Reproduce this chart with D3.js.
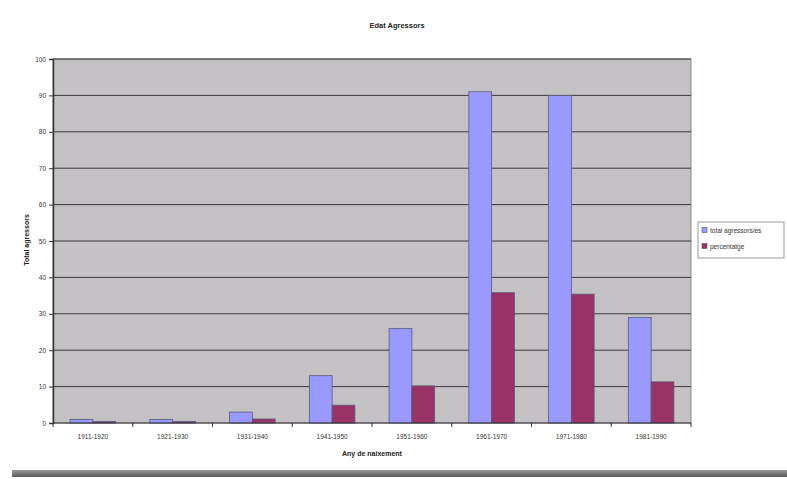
<!DOCTYPE html>
<html><head><meta charset="utf-8">
<script src="https://cdn.jsdelivr.net/npm/d3@7"></script>
<style>body{margin:0;background:#fff;}svg{display:block;font-family:"Liberation Sans",Arial,sans-serif;}</style>
</head><body>
<svg id="c" width="787" height="479"></svg>
<script>
const categories = ["1911-1920","1921-1930","1931-1940","1941-1950","1951-1960","1961-1970","1971-1980","1981-1990"];
const totalValues = [1, 1, 3, 13, 26, 91, 90, 29];
const percentValues = [0.4, 0.4, 1.1, 4.9, 10.2, 35.8, 35.4, 11.3];
const seriesNames = ["total agressors/es", "percentatge"];
const yTicks = [0,10,20,30,40,50,60,70,80,90,100];

const svg = d3.select("#c");
const L = 53, R = 691, T = 59, B = 423;
const x = d3.scaleBand().domain(categories).range([L, R]).paddingInner(0).paddingOuter(0);
const y = d3.scaleLinear().domain([0, 100]).range([B, T]);
const colors = ["#9999ff", "#993366"];

svg.append("rect").attr("x", L).attr("y", T).attr("width", R - L).attr("height", B - T)
  .attr("fill", "#c3c1c3").attr("stroke", "#8a8a8a").attr("stroke-width", 1);

// gridlines
svg.append("g").selectAll("line").data(yTicks.filter(d => d > 0)).join("line")
  .attr("x1", L).attr("x2", R).attr("y1", d => y(d)).attr("y2", d => y(d))
  .attr("stroke", "#3a3a3a").attr("stroke-width", 1);

const bw = x.bandwidth();
const barW = bw / 3.5;
const series = [totalValues, percentValues];
series.forEach((vals, si) => {
  svg.append("g").selectAll("rect").data(categories).join("rect")
    .attr("x", c => x(c) + barW * 0.75 + si * barW)
    .attr("y", (c, i) => y(vals[i]))
    .attr("width", barW)
    .attr("height", (c, i) => B - y(vals[i]))
    .attr("fill", colors[si])
    .attr("stroke", "#5a5a7a").attr("stroke-width", 0.8);
});

// axes
const yAxis = d3.axisLeft(y).tickValues(yTicks).tickSize(4).tickPadding(3);
const gy = svg.append("g").attr("transform", `translate(${L},0)`).call(yAxis);
gy.select(".domain").attr("stroke", "#333").attr("stroke-width", 1.5);
gy.selectAll(".tick line").attr("stroke", "#333");
gy.selectAll("text").attr("font-size", 6.5).attr("fill", "#333");

const xb = d3.scaleLinear().domain([0, categories.length]).range([L, R]);
const gx = svg.append("g").attr("transform", `translate(0,${B})`);
gx.append("line").attr("x1", L).attr("x2", R).attr("stroke", "#333").attr("stroke-width", 1.2);
gx.selectAll(".tk").data(d3.range(categories.length + 1)).join("line")
  .attr("x1", d => xb(d)).attr("x2", d => xb(d)).attr("y1", 0).attr("y2", 4).attr("stroke", "#333");
gx.selectAll("text").data(categories).join("text")
  .attr("x", c => x(c) + bw / 2).attr("y", 16).attr("text-anchor", "middle")
  .attr("font-size", 6.5).attr("fill", "#333").text(c => c);

// titles
svg.append("text").attr("x", 397).attr("y", 28).attr("text-anchor", "middle")
  .attr("font-size", 7.5).attr("font-weight", "bold").attr("fill", "#222").text("Edat Agressors");
svg.append("text").attr("x", 372).attr("y", 456).attr("text-anchor", "middle")
  .attr("font-size", 7).attr("font-weight", "bold").attr("fill", "#222").text("Any de naixement");
svg.append("text").attr("transform", "translate(29,240) rotate(-90)").attr("text-anchor", "middle")
  .attr("font-size", 7).attr("font-weight", "bold").attr("fill", "#222").text("Total agressors");

// legend
const lg = svg.append("g").attr("transform", "translate(698,222)");
lg.append("rect").attr("width", 86).attr("height", 36).attr("fill", "#fff").attr("stroke", "#999");
seriesNames.forEach((n, i) => {
  lg.append("rect").attr("x", 4).attr("y", 8 + i * 16 - 2.5).attr("width", 5).attr("height", 5)
    .attr("fill", colors[i]).attr("stroke", "#555").attr("stroke-width", 0.6);
  lg.append("text").attr("x", 12).attr("y", 10.5 + i * 16).attr("font-size", 6.5).attr("fill", "#333").text(n);
});

// bottom bar
const grad = svg.append("defs").append("linearGradient").attr("id", "bg").attr("x1", 0).attr("x2", 0).attr("y1", 0).attr("y2", 1);
grad.append("stop").attr("offset", "0%").attr("stop-color", "#9a9a9a");
grad.append("stop").attr("offset", "100%").attr("stop-color", "#5a5a5a");
svg.append("rect").attr("x", 12).attr("y", 470).attr("width", 775).attr("height", 7).attr("fill", "url(#bg)");
</script>
</body></html>
